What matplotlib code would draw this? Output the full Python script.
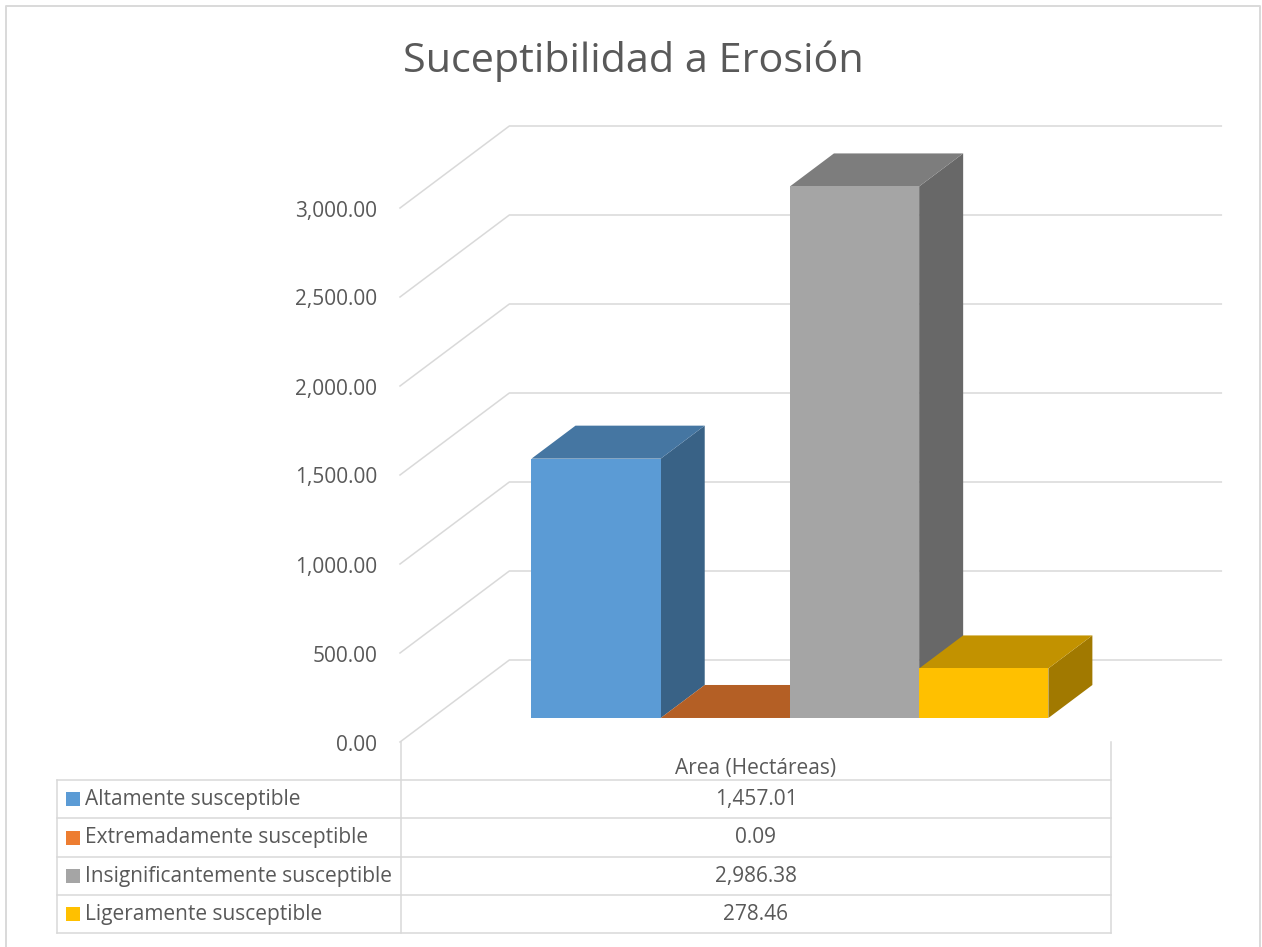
import matplotlib
matplotlib.use("Agg")
import matplotlib.pyplot as plt
from matplotlib.patches import Polygon, Rectangle
import numpy as np

plt.rcParams['font.family'] = ['Open Sans', 'DejaVu Sans']

# Data
title = "Suceptibilidad a Erosión"
series_name = "Area (Hectáreas)"
categories = ["Altamente susceptible", "Extremadamente susceptible",
              "Insignificantemente susceptible", "Ligeramente susceptible"]
values = [1457.01, 0.09, 2986.38, 278.46]
y_ticks = [0, 500, 1000, 1500, 2000, 2500, 3000]

front_colors = ["#5B9BD5", "#ED7D31", "#A5A5A5", "#FFC000"]

TEXT = "#595959"
GRID = "#D9D9D9"

W, H = 1262, 947
fig = plt.figure(figsize=(W / 100, H / 100), dpi=100)

# Overlay axes in pixel units for frame, title and data table
ov = fig.add_axes([0, 0, 1, 1])
ov.set_xlim(0, W)
ov.set_ylim(H, 0)
ov.axis("off")

# Main axes: the plane of the bars' front faces
ax_l, ax_r = 432, 1144
ax_top, ax_bot = 184, 718
ax = fig.add_axes([ax_l / W, (H - ax_bot) / H, (ax_r - ax_l) / W, (ax_bot - ax_top) / H])
ax.set_xlim(-1.27, 4.24)
ax.set_ylim(0, 3000)
ax.axis("off")
fig.canvas.draw()

DEPTH_RATIO = 112 / 84  # horizontal shift per vertical shift of the oblique depth axis


def shift(x, v, d):
    """Point (x, v) moved d pixels back in depth (up and to the right)."""
    disp = ax.transData.transform((x, v)) + np.array([d * DEPTH_RATIO, d])
    return ax.transData.inverted().transform(disp)


FRONT_D = -24   # front edge of floor / left wall
BACK_D = 58     # back wall
BAR_D = 33      # bar depth

x0, x1 = ax.get_xlim()

# Gridlines: left wall diagonal + back wall horizontal
for v in y_ticks:
    p_front = shift(x0, v, FRONT_D)
    p_back = shift(x0, v, BACK_D)
    p_right = shift(x1, v, BACK_D)
    ax.plot([p_front[0], p_back[0], p_right[0]], [p_front[1], p_back[1], p_right[1]],
            color=GRID, lw=1.1, clip_on=False, zorder=1, solid_joinstyle="miter")
    lab = ax.transData.transform(p_front)
    fig.text((lab[0] - 23) / W, (lab[1] - 3) / H, f"{v:,.2f}", ha="right", va="center",
             fontsize=15, color=TEXT)


def shade(hexcol, f):
    c = np.array(matplotlib.colors.to_rgb(hexcol))
    return tuple(c * f)


# 3D columns, painted left to right
width = 1.0
for i, (v, col) in enumerate(zip(values, front_colors)):
    xl, xr = i - width / 2, i + width / 2
    fl, fr = (xl, 0), (xr, 0)
    tl, tr = (xl, v), (xr, v)
    btl, btr = shift(xl, v, BAR_D), shift(xr, v, BAR_D)
    bbr = shift(xr, 0, BAR_D)
    side = Polygon([fr, tr, btr, bbr], closed=True, facecolor=shade(col, 0.63),
                   edgecolor="none", clip_on=False, zorder=3 + i)
    top = Polygon([tl, tr, btr, btl], closed=True, facecolor=shade(col, 0.76),
                  edgecolor="none", clip_on=False, zorder=3 + i)
    front = Polygon([fl, fr, tr, tl], closed=True, facecolor=col,
                    edgecolor="none", clip_on=False, zorder=3 + i)
    for p in (side, top, front):
        ax.add_patch(p)

# Title
ov.text(633, 61, title, ha="center", va="center", fontsize=29.8, color=TEXT)

# Outer frame
ov.plot([6, 6, 1260, 1260], [H + 5, 6, 6, H + 5], color=GRID, lw=1.4, clip_on=False)

# Data table
tab_left, tab_mid, tab_right = 57, 401, 1111
header_top = 742
rows = [780, 818, 857, 895, 933]
ov.plot([tab_mid, tab_mid], [header_top, rows[-1]], color=GRID, lw=1.1)
ov.plot([tab_right, tab_right], [header_top, rows[-1]], color=GRID, lw=1.1)
ov.plot([tab_left, tab_left], [rows[0], rows[-1]], color=GRID, lw=1.1)
for yy in rows:
    ov.plot([tab_left, tab_right], [yy, yy], color=GRID, lw=1.1)

mid_x = (tab_mid + tab_right) / 2
ov.text(mid_x, (header_top + rows[0]) / 2 + 7, series_name, ha="center", va="center",
        fontsize=15, color=TEXT)
for k, (name, v, col) in enumerate(zip(categories, values, front_colors)):
    yc = (rows[k] + rows[k + 1]) / 2
    ov.add_patch(Rectangle((66, yc - 7), 14, 14, facecolor=col, edgecolor="none"))
    ov.text(85, yc, name, ha="left", va="center", fontsize=15, color=TEXT)
    ov.text(mid_x, yc, f"{v:,.2f}", ha="center", va="center", fontsize=15, color=TEXT)

fig.savefig("out.png", dpi=100, facecolor="white")
